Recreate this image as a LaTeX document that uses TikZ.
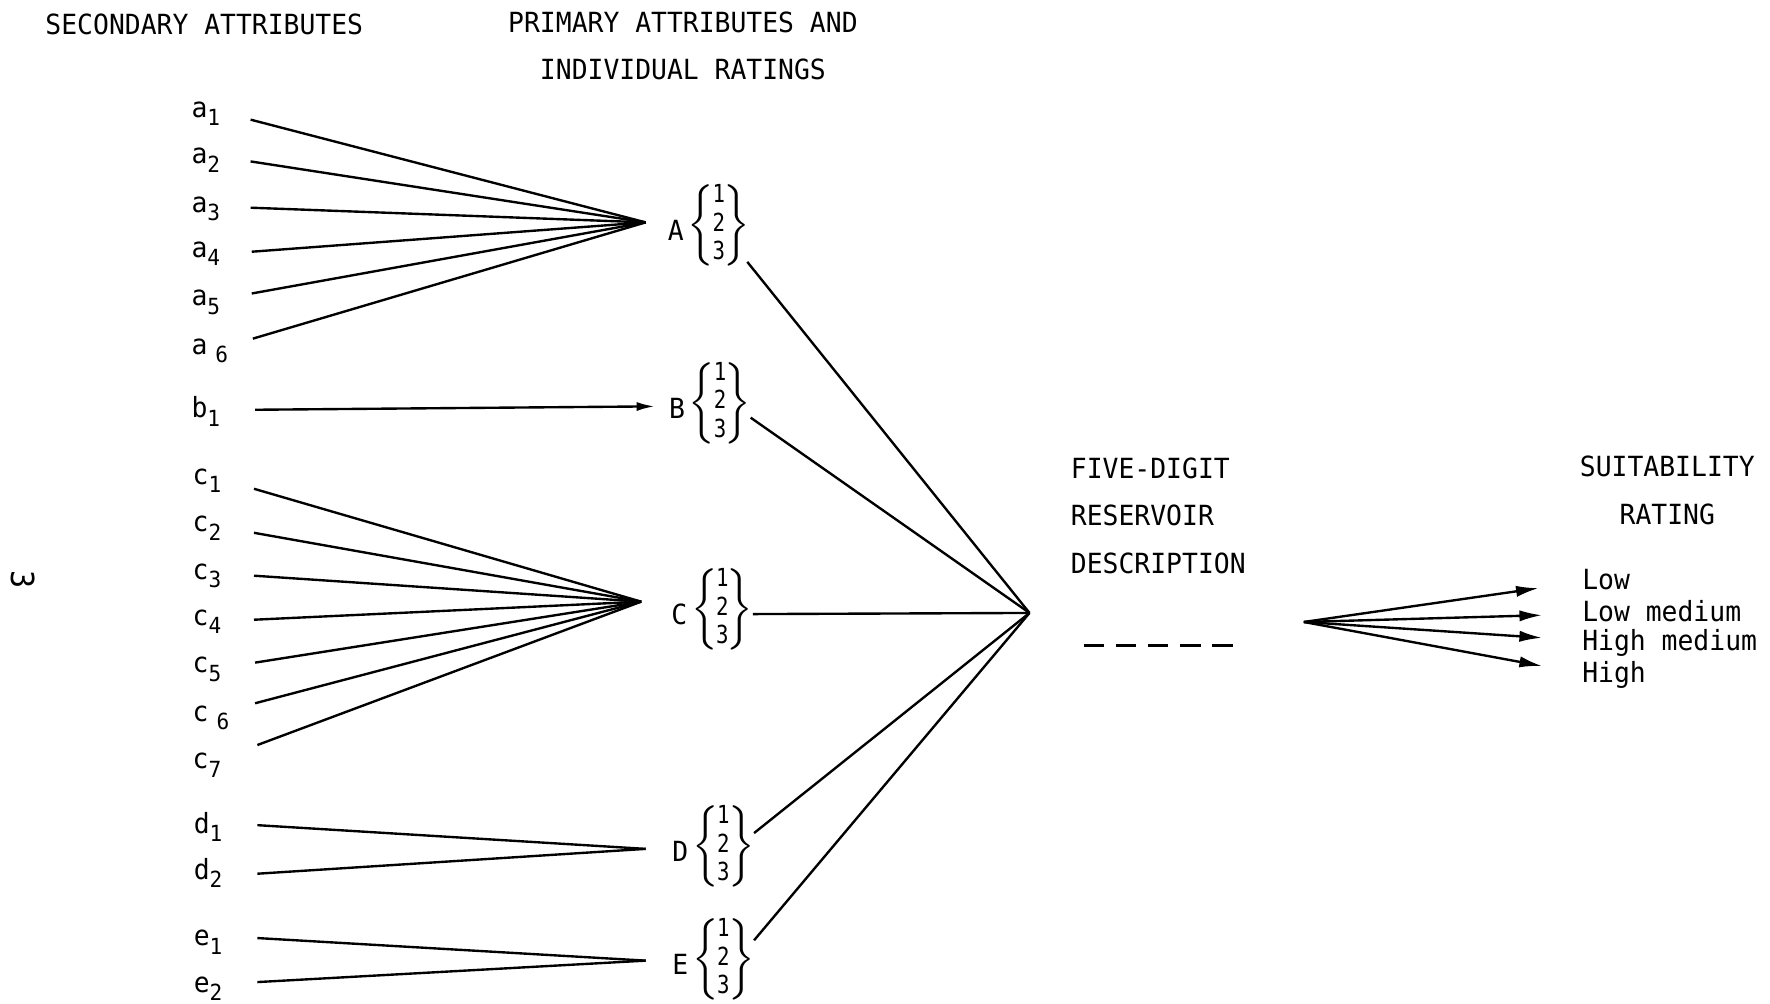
\documentclass[tikz,border=0pt]{standalone}
\usepackage{fontspec}
\setmainfont{DejaVu Sans Mono}[FakeStretch=0.95]
\usetikzlibrary{arrows.meta}

\newcommand{\ix}[1]{\raisebox{-0.55ex}{\fontsize{5.6pt}{6pt}\selectfont#1}}
\newcommand{\rates}{\scalebox{1}[1.14]{$\left\{\kern-0.4pt\vcenter{\hbox{\fontsize{5.5pt}{6.3pt}\selectfont
  \begin{tabular}{@{}c@{}}1\\2\\3\end{tabular}}}\kern-0.4pt\right\}$}}

\begin{document}
\begin{tikzpicture}[font=\fontsize{7pt}{8.2pt}\selectfont,
  lbl/.style={anchor=base west, inner sep=0pt},
  prim/.style={anchor=west, inner sep=0pt},
  wire/.style={line width=0.6pt}]
\useasboundingbox (0,0) rectangle (15.68,8.89);

% headings
\node (sec) at (1.81,8.67) {SECONDARY ATTRIBUTES};
\node[align=center, font=\fontsize{7pt}{11.9pt}\selectfont] (pri) at (6.05,8.48)
  {PRIMARY ATTRIBUTES AND\\INDIVIDUAL RATINGS};
\node[rotate=-90, font=\fontsize{8pt}{9pt}\selectfont] (pg) at (0.20,3.76) {3};

% secondary attributes
\node[lbl] (a1) at (1.69,7.85) {a\ix{1}};
\node[lbl] (a2) at (1.69,7.44) {a\ix{2}};
\node[lbl] (a3) at (1.69,7.01) {a\ix{3}};
\node[lbl] (a4) at (1.69,6.61) {a\ix{4}};
\node[lbl] (a5) at (1.69,6.18) {a\ix{5}};
\node[lbl] (a6) at (1.69,5.75) {a\ix{\hspace{2pt}6}};
\node[lbl] (b1) at (1.69,5.19) {b\ix{1}};
\node[lbl] (c1) at (1.70,4.60) {c\ix{1}};
\node[lbl] (c2) at (1.70,4.18) {c\ix{2}};
\node[lbl] (c3) at (1.70,3.76) {c\ix{3}};
\node[lbl] (c4) at (1.70,3.35) {c\ix{4}};
\node[lbl] (c5) at (1.70,2.93) {c\ix{5}};
\node[lbl] (c6) at (1.70,2.50) {c\ix{\hspace{2pt}6}};
\node[lbl] (c7) at (1.70,2.08) {c\ix{7}};
\node[lbl] (d1) at (1.71,1.51) {d\ix{1}};
\node[lbl] (d2) at (1.71,1.10) {d\ix{2}};
\node[lbl] (e1) at (1.71,0.51) {e\ix{1}};
\node[lbl] (e2) at (1.71,0.10) {e\ix{2}};

% line starts
\coordinate (a1s) at (2.22,7.83);
\coordinate (a2s) at (2.22,7.46);
\coordinate (a3s) at (2.22,7.05);
\coordinate (a4s) at (2.23,6.66);
\coordinate (a5s) at (2.23,6.29);
\coordinate (a6s) at (2.24,5.89);
\coordinate (b1s) at (2.26,5.26);
\coordinate (c1s) at (2.25,4.56);
\coordinate (c2s) at (2.25,4.17);
\coordinate (c3s) at (2.25,3.79);
\coordinate (c4s) at (2.25,3.40);
\coordinate (c5s) at (2.26,3.02);
\coordinate (c6s) at (2.26,2.66);
\coordinate (c7s) at (2.28,2.29);
\coordinate (d1s) at (2.28,1.58);
\coordinate (d2s) at (2.28,1.15);
\coordinate (e1s) at (2.28,0.58);
\coordinate (e2s) at (2.28,0.19);

% primary attributes
\node[prim] (A) at (5.91,6.89) {\raisebox{-1.8pt}{A}\hspace{1pt}\rates};
\node[prim] (B) at (5.92,5.32) {\raisebox{-1.8pt}{B}\hspace{1pt}\rates};
\node[prim] (C) at (5.94,3.49) {\raisebox{-1.8pt}{C}\hspace{1pt}\rates};
\node[prim] (D) at (5.95,1.39) {\raisebox{-1.8pt}{D}\hspace{1pt}\rates};
\node[prim] (E) at (5.95,0.39) {\raisebox{-1.8pt}{E}\hspace{1pt}\rates};

\coordinate (hA) at (5.72,6.92);
\coordinate (hB) at (5.80,5.29);
\coordinate (hC) at (5.68,3.56);
\coordinate (hD) at (5.72,1.37);
\coordinate (hE) at (5.72,0.38);

\draw[wire] (a1s) -- (hA);
\draw[wire] (a2s) -- (hA);
\draw[wire] (a3s) -- (hA);
\draw[wire] (a4s) -- (hA);
\draw[wire] (a5s) -- (hA);
\draw[wire] (a6s) -- (hA);
\draw[wire, -{Latex[length=1.6mm,width=0.8mm]}] (b1s) -- (hB);
\draw[wire] (c1s) -- (hC);
\draw[wire] (c2s) -- (hC);
\draw[wire] (c3s) -- (hC);
\draw[wire] (c4s) -- (hC);
\draw[wire] (c5s) -- (hC);
\draw[wire] (c6s) -- (hC);
\draw[wire] (c7s) -- (hC);
\draw[wire] (d1s) -- (hD);
\draw[wire] (d2s) -- (hD);
\draw[wire] (e1s) -- (hE);
\draw[wire] (e2s) -- (hE);

% to the reservoir description
\coordinate (oA) at (6.62,6.57);
\coordinate (oB) at (6.65,5.19);
\coordinate (oC) at (6.67,3.45);
\coordinate (oD) at (6.68,1.51);
\coordinate (oE) at (6.68,0.56);
\coordinate (hub) at (9.12,3.46);
\draw[wire] (oA) -- (hub);
\draw[wire] (oB) -- (hub);
\draw[wire] (oC) -- (hub);
\draw[wire] (oD) -- (hub);
\draw[wire] (oE) -- (hub);

\node[anchor=west, align=left, inner sep=0pt, font=\fontsize{7pt}{12pt}\selectfont] (desc)
  at (9.48,4.32) {FIVE-DIGIT\\RESERVOIR\\DESCRIPTION};
\draw[wire, dash pattern=on 0.18cm off 0.105cm] (9.60,3.17) -- (10.92,3.17);

% suitability rating
\node[align=center, font=\fontsize{7pt}{12.2pt}\selectfont] (suit) at (14.77,4.545)
  {SUITABILITY\\RATING};
\node[prim] (low) at (14.01,3.76) {Low};
\node[prim] (lowmed) at (14.01,3.48) {Low medium};
\node[prim] (highmed) at (14.01,3.19) {High medium};
\node[prim] (high) at (14.01,2.91) {High};

\coordinate (hub2) at (11.55,3.38);
\coordinate (tlow) at (13.63,3.68);
\coordinate (tlowmed) at (13.66,3.44);
\coordinate (thighmed) at (13.66,3.24);
\coordinate (thigh) at (13.66,2.99);
\draw[wire, -{Latex[length=2mm,width=1mm]}] (hub2) -- (tlow);
\draw[wire, -{Latex[length=2mm,width=1mm]}] (hub2) -- (tlowmed);
\draw[wire, -{Latex[length=2mm,width=1mm]}] (hub2) -- (thighmed);
\draw[wire, -{Latex[length=2mm,width=1mm]}] (hub2) -- (thigh);
\end{tikzpicture}
\end{document}
